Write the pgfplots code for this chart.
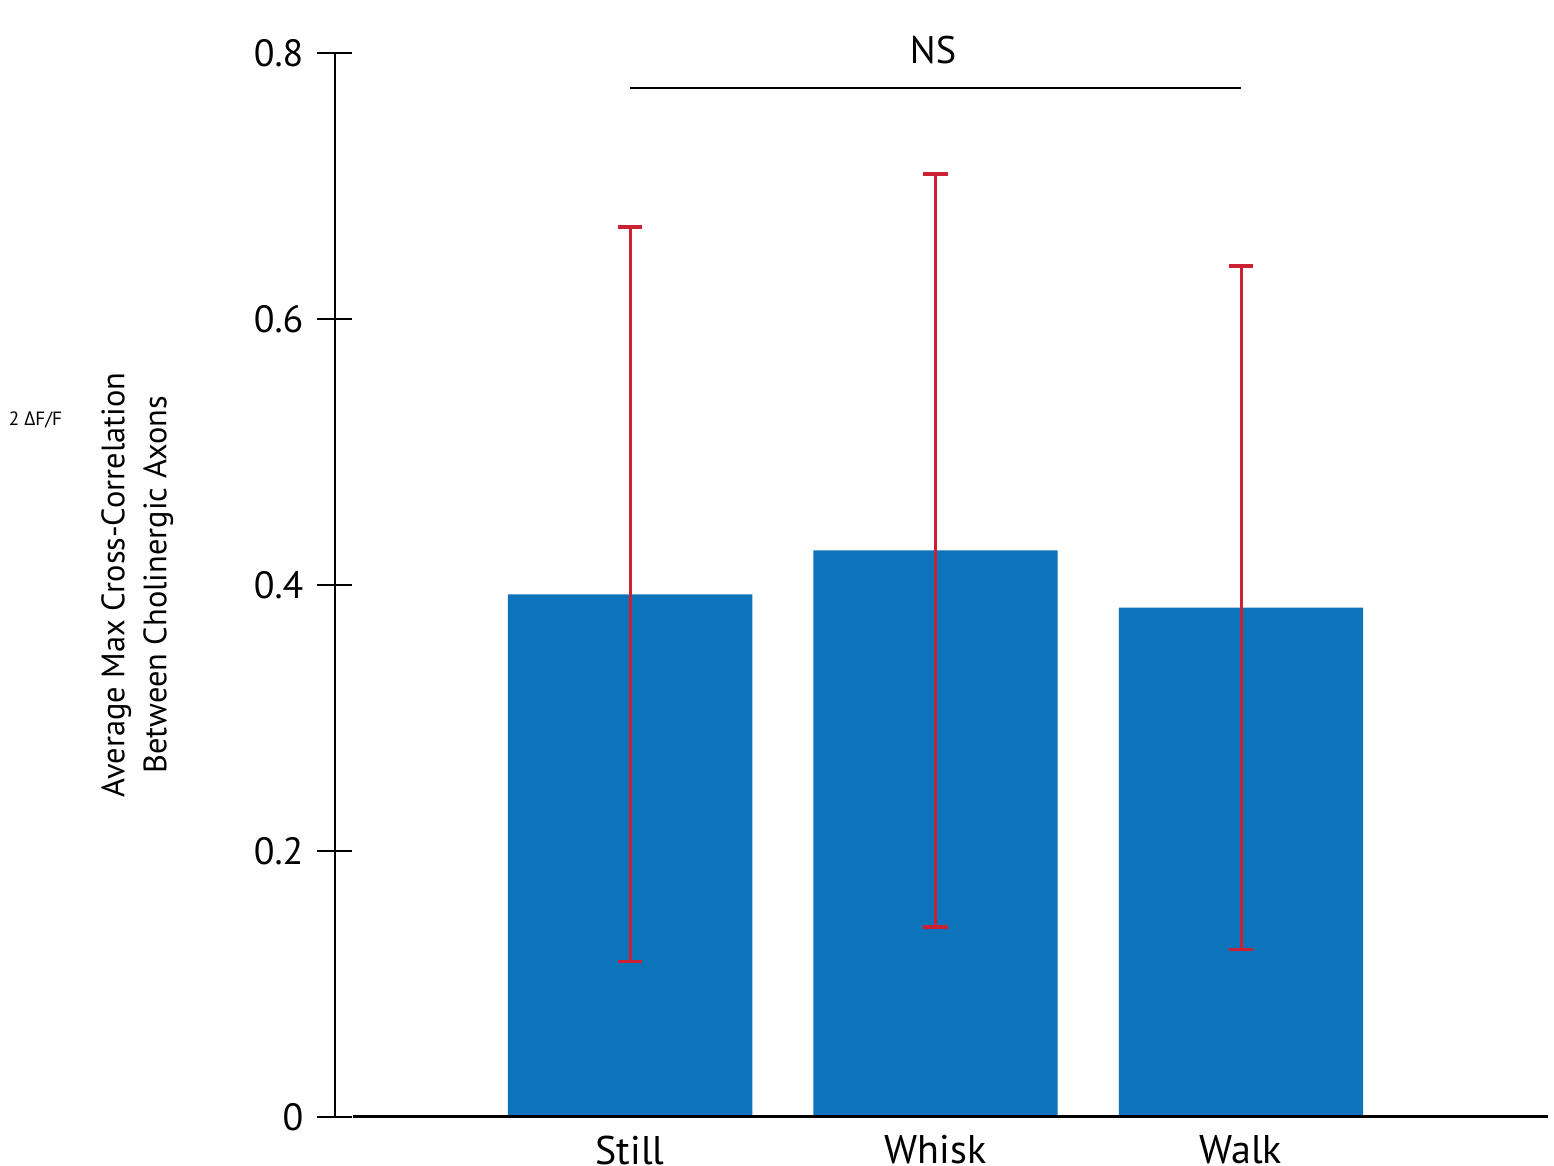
\documentclass[border=0pt]{standalone}
\usepackage{pgfplots}
\pgfplotsset{compat=1.18}
\usepackage{fontspec}
\setmainfont{PT Sans}
\newfontfamily\greekfont{Open Sans}
\definecolor{barblue}{RGB}{13,115,187}
\definecolor{errred}{RGB}{204,32,51}
\begin{document}
\begin{tikzpicture}
\begin{axis}[
  at={(0,0)}, anchor=south west,
  scale only axis,
  width=303.25pt, height=266pt,
  xmin=-0.966, xmax=3.005,
  ymin=0, ymax=0.8,
  axis y line=left,
  axis x line=bottom,
  x axis line style={draw=none},
  y axis line style={line width=0.6pt, -},
  xtick={0,1,2},
  xticklabels={\raisebox{-1.75pt}{Still}, Whisk, Walk},
  xtick style={draw=none},
  xticklabel style={font=\fontsize{10}{12}\selectfont, yshift=3.25pt},
  ytick={0,0.2,0.4,0.6,0.8},
  yticklabels={0,0.2,0.4,0.6,0.8},
  ytick align=center,
  major tick length=8.75pt,
  ytick style={line width=0.6pt, black},
  yticklabel style={font=\fontsize{9.5}{11}\selectfont},
  /pgf/number format/assume math mode=true,
  ylabel={Average Max Cross-Correlation\\Between Cholinergic Axons},
  ylabel style={at={(axis description cs:-0.163,0.5)}, anchor=center, align=center, font=\fontsize{8.1}{10.5}\selectfont},
  clip=false,
]
\addplot[ybar, bar width=0.8, fill=barblue, draw=none,
  error bars/.cd, y dir=both, y explicit,
  error bar style={errred, line width=0.75pt},
  error mark options={errred, line width=0.9pt, mark size=3.1pt, rotate=90}]
  coordinates {
  (0,0.393) +- (0,0.276)
  (1,0.426) +- (0,0.283)
  (2,0.383) +- (0,0.257)
  };
\addplot[black, line width=0.5pt, mark=none] coordinates {(0,0.774) (2,0.774)};
\draw[line width=0.75pt] (axis cs:-0.908,0) -- (axis cs:3.005,0);
\node[font=\fontsize{9.6}{11}\selectfont] at (axis cs:0.992,0.802) {NS};
\node[font=\fontsize{4.8}{5.5}\selectfont] at (axis description cs:-0.247,0.655) {2 {\greekfont Δ}F/F};
\end{axis}
\pgfresetboundingbox
\path[use as bounding box] (-83.75pt,-12.25pt) rectangle (304.75pt,279.25pt);
\end{tikzpicture}
\end{document}
